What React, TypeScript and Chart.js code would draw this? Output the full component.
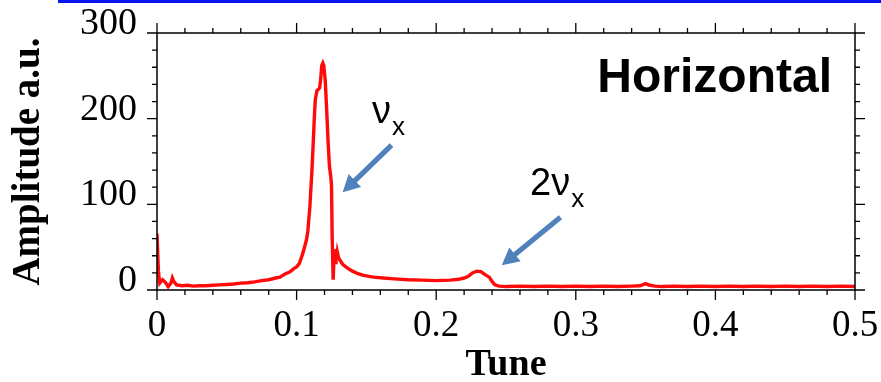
import React, { useEffect, useRef } from "react";
import { Chart, registerables } from "chart.js";

Chart.register(...registerables);

// Tune values (x) and amplitude values (y)
const tune = [
  0.0, 0.001, 0.002, 0.004, 0.006, 0.008, 0.010, 0.011, 0.012, 0.014,
  0.018, 0.022, 0.026, 0.030, 0.035, 0.040, 0.045, 0.050, 0.055, 0.060,
  0.065, 0.070, 0.075, 0.080, 0.085, 0.088, 0.092, 0.095, 0.098, 0.100,
  0.102, 0.1045, 0.106, 0.107, 0.108, 0.1095, 0.111, 0.112, 0.1128, 0.1134,
  0.1146, 0.1155, 0.1165, 0.1172, 0.118, 0.1188, 0.1195, 0.1205, 0.1215, 0.1225,
  0.1235, 0.1245, 0.125, 0.1255, 0.1262, 0.1268, 0.1272, 0.1277, 0.1282, 0.1287,
  0.1292, 0.130, 0.131, 0.133, 0.136, 0.140, 0.144, 0.148, 0.155, 0.162,
  0.170, 0.180, 0.190, 0.200, 0.210, 0.216, 0.220, 0.223, 0.226, 0.229,
  0.232, 0.235, 0.238, 0.240, 0.242, 0.245, 0.250, 0.260, 0.270, 0.280,
  0.290, 0.300, 0.310, 0.320, 0.330, 0.340, 0.346, 0.350, 0.353, 0.357,
  0.362, 0.370, 0.380, 0.390, 0.400, 0.410, 0.420, 0.430, 0.440, 0.450,
  0.460, 0.470, 0.480, 0.490, 0.500,
];
const amplitude = [
  66, 22, 8, 12, 9, 4, 8, 14, 10, 6,
  5, 5.5, 4.5, 5, 5, 5.5, 6, 6.5, 7, 8,
  8.5, 9.5, 11, 12, 14, 15, 19, 21, 25, 27,
  31, 43, 52, 58, 68, 97, 140, 175, 205, 222,
  233, 234, 236, 245, 262, 265, 262, 245, 212, 175,
  145, 132, 122, 60, 12, 38, 44, 32, 48, 36,
  44, 38, 35, 30, 26, 22, 19, 17, 15, 14,
  13, 12, 11.5, 11, 11.5, 12.5, 14, 16, 20, 22,
  21.5, 18, 15, 10, 6, 4.5, 4, 4.5, 4, 4.5,
  4, 4.5, 4, 4.5, 4, 4.5, 5, 7.5, 5.5, 4.5,
  4, 4.5, 4, 4.5, 4, 4.5, 4, 4.5, 4, 4.5,
  4, 4.5, 4, 4.5, 4,
];

const xTickLabels = ["0", "0.1", "0.2", "0.3", "0.4", "0.5"];
const yTickLabels = ["0", "100", "200", "300"];

// Annotation anchors in data coordinates
const nuLabel = { text: "ν", sub: "x", x: 0.154, y: 195 };
const twoNuLabel = { text: "2ν", sub: "x", x: 0.2672, y: 111 };
const arrow1 = { x0: 0.168, y0: 169, x1: 0.133, y1: 114 };
const arrow2 = { x0: 0.289, y0: 85, x1: 0.247, y1: 29 };
const panelLabel = { text: "Horizontal", x: 0.4835, y: 231 };

function drawArrow(ctx: CanvasRenderingContext2D, sx: number, sy: number, tx: number, ty: number) {
  const dx = tx - sx;
  const dy = ty - sy;
  const len = Math.hypot(dx, dy);
  const ux = dx / len;
  const uy = dy / len;
  const px = -uy;
  const py = ux;
  const headLen = 17;
  const headHalf = 9;
  const shaftHalf = 2.6;
  const bx = tx - ux * headLen;
  const by = ty - uy * headLen;
  ctx.beginPath();
  ctx.moveTo(sx + px * shaftHalf, sy + py * shaftHalf);
  ctx.lineTo(bx + px * shaftHalf, by + py * shaftHalf);
  ctx.lineTo(bx + px * headHalf, by + py * headHalf);
  ctx.lineTo(tx, ty);
  ctx.lineTo(bx - px * headHalf, by - py * headHalf);
  ctx.lineTo(bx - px * shaftHalf, by - py * shaftHalf);
  ctx.lineTo(sx - px * shaftHalf, sy - py * shaftHalf);
  ctx.closePath();
  ctx.fill();
}

const decorPlugin = {
  id: "decor",
  afterDraw(chart: any) {
    const ctx: CanvasRenderingContext2D = chart.ctx;
    const { left, right, top, bottom } = chart.chartArea;
    const xs = chart.scales.x;
    const ys = chart.scales.y;
    ctx.save();

    // blue rule at top of the slide
    ctx.fillStyle = "#0a14f0";
    ctx.fillRect(58, 0, chart.width - 58, 3);

    // frame
    ctx.strokeStyle = "#000";
    ctx.lineWidth = 1.5;
    ctx.beginPath();
    ctx.rect(left, top, right - left, bottom - top);
    ctx.stroke();

    // ticks (outward on all four sides)
    ctx.lineWidth = 1.3;
    ctx.beginPath();
    for (let i = 0; i <= 25; i++) {
      const px = xs.getPixelForValue(i * 0.02);
      const l = i % 5 === 0 ? 10 : 5;
      ctx.moveTo(px, bottom);
      ctx.lineTo(px, bottom + l);
      ctx.moveTo(px, top);
      ctx.lineTo(px, top - l);
    }
    for (let i = 0; i <= 15; i++) {
      const py = ys.getPixelForValue(i * 20);
      const l = i % 5 === 0 ? 10 : 5;
      ctx.moveTo(left, py);
      ctx.lineTo(left - l, py);
      ctx.moveTo(right, py);
      ctx.lineTo(right + l, py);
    }
    ctx.stroke();

    // annotations
    ctx.fillStyle = "#000";
    ctx.textBaseline = "alphabetic";
    ctx.textAlign = "left";
    const drawSub = (lab: { text: string; sub: string; x: number; y: number }) => {
      const x = xs.getPixelForValue(lab.x);
      const y = ys.getPixelForValue(lab.y);
      ctx.font = '38px "Liberation Sans"';
      ctx.fillText(lab.text, x, y);
      const w = ctx.measureText(lab.text).width;
      ctx.font = '26px "Liberation Sans"';
      ctx.fillText(lab.sub, x + w + 1, y + 12);
    };
    drawSub(nuLabel);
    drawSub(twoNuLabel);

    ctx.font = 'bold 48px "Liberation Sans"';
    ctx.textAlign = "right";
    ctx.fillText(panelLabel.text, xs.getPixelForValue(panelLabel.x), ys.getPixelForValue(panelLabel.y));

    ctx.fillStyle = "#4f81bd";
    for (const a of [arrow1, arrow2]) {
      drawArrow(
        ctx,
        xs.getPixelForValue(a.x0),
        ys.getPixelForValue(a.y0),
        xs.getPixelForValue(a.x1),
        ys.getPixelForValue(a.y1)
      );
    }
    ctx.restore();
  },
};

const zeroPad = (s: any) => {
  s.paddingTop = 0;
  s.paddingBottom = 0;
  s.paddingLeft = 0;
  s.paddingRight = 0;
};

export default function App() {
  const ref = useRef<HTMLCanvasElement | null>(null);
  useEffect(() => {
    document.body.style.margin = "0";
    const canvas = ref.current;
    if (!canvas) return;
    const points = tune.map((t, i) => ({ x: t, y: amplitude[i] }));
    const chart = new Chart(canvas, {
      type: "line",
      data: {
        datasets: [
          {
            data: points,
            borderColor: "#ff0a0a",
            borderWidth: 3.4,
            pointRadius: 0,
            tension: 0,
            fill: false,
          },
        ],
      },
      options: {
        animation: false,
        responsive: false,
        events: [],
        layout: { padding: { top: 33, right: 26, left: 0, bottom: 0 } },
        plugins: { legend: { display: false }, tooltip: { enabled: false } },
        scales: {
          x: {
            type: "linear",
            min: 0,
            max: 0.5,
            border: { display: false },
            grid: { display: false, drawTicks: false },
            ticks: {
              stepSize: 0.1,
              padding: 14,
              color: "#000",
              maxRotation: 0,
              font: { family: '"Liberation Serif"', size: 37 },
              callback: (v: any) => xTickLabels[Math.round(Number(v) * 10)] ?? "",
            },
            title: {
              display: true,
              text: "Tune",
              color: "#000",
              padding: 0,
              font: { family: '"Liberation Serif"', size: 38, weight: "bold", lineHeight: 0.9 },
            },
            afterFit: (s: any) => {
              s.height = 92;
              zeroPad(s);
            },
          },
          y: {
            type: "linear",
            min: 0,
            max: 300,
            border: { display: false },
            grid: { display: false, drawTicks: false },
            ticks: {
              stepSize: 100,
              padding: 20,
              labelOffset: -9,
              color: "#000",
              font: { family: '"Liberation Serif"', size: 38 },
              callback: (v: any) => yTickLabels[Math.round(Number(v) / 100)] ?? "",
            },
            title: {
              display: true,
              text: "Amplitude a.u.",
              color: "#000",
              padding: 0,
              font: { family: '"Liberation Serif"', size: 39, weight: "bold", lineHeight: 1.5 },
            },
            afterFit: (s: any) => {
              s.width = 157;
              zeroPad(s);
            },
          },
        },
      },
      plugins: [decorPlugin],
    });
    return () => chart.destroy();
  }, []);
  return (
    <div style={{ position: "absolute", left: 0, top: 0, width: 881, height: 382, background: "#fff" }}>
      <canvas ref={ref} width={881} height={382} style={{ display: "block" }} />
    </div>
  );
}
